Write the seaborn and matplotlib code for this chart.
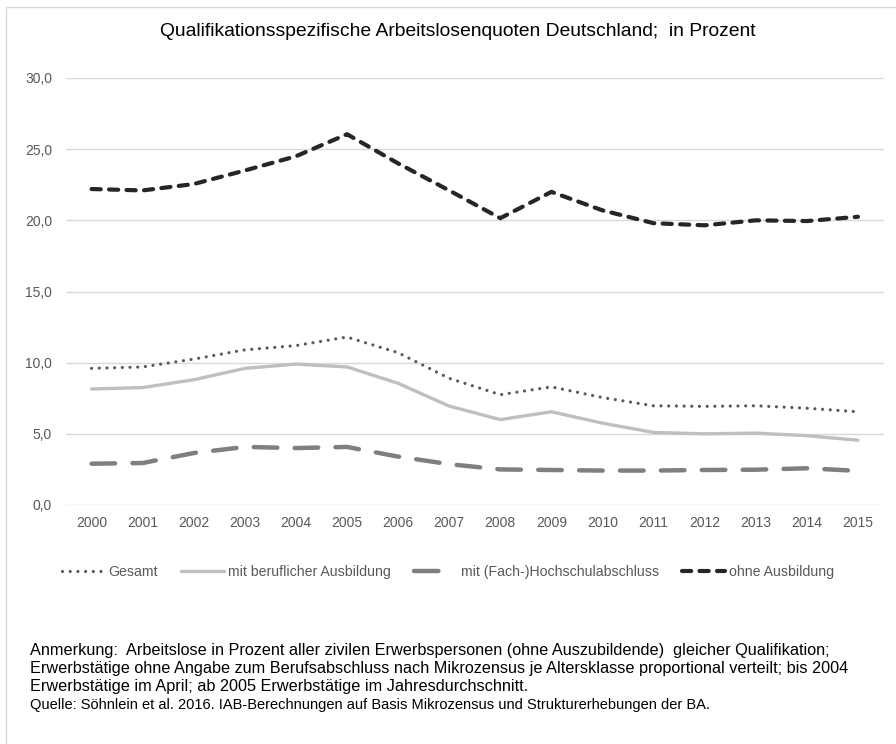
import matplotlib
matplotlib.use("Agg")
import matplotlib.pyplot as plt
import seaborn as sns
import pandas as pd
from matplotlib.patches import Rectangle
from matplotlib.lines import Line2D

years = list(range(2000, 2016))
gesamt = [9.6, 9.7, 10.25, 10.9, 11.2, 11.8, 10.7, 8.9, 7.75, 8.3, 7.55, 6.97, 6.93, 6.97, 6.8, 6.55]
beruflich = [8.15, 8.25, 8.8, 9.6, 9.9, 9.7, 8.55, 6.95, 6.0, 6.55, 5.75, 5.1, 5.0, 5.05, 4.87, 4.55]
hochschule = [2.9, 2.95, 3.65, 4.08, 4.0, 4.08, 3.4, 2.87, 2.5, 2.46, 2.42, 2.42, 2.46, 2.48, 2.58, 2.4]
ohne = [22.2, 22.1, 22.55, 23.5, 24.5, 26.05, 24.0, 22.1, 20.15, 22.0, 20.7, 19.8, 19.65, 20.0, 19.95, 20.25]
series_names = ["Gesamt", "mit beruflicher Ausbildung", "mit (Fach-)Hochschulabschluss", "ohne Ausbildung"]
yticks = [0, 5, 10, 15, 20, 25, 30]

title = "Qualifikationsspezifische Arbeitslosenquoten Deutschland;  in Prozent"
note_lines = [
    "Anmerkung:  Arbeitslose in Prozent aller zivilen Erwerbspersonen (ohne Auszubildende)  gleicher Qualifikation;",
    "Erwerbstätige ohne Angabe zum Berufsabschluss nach Mikrozensus je Altersklasse proportional verteilt; bis 2004",
    "Erwerbstätige im April; ab 2005 Erwerbstätige im Jahresdurchschnitt.",
]
source = "Quelle: Söhnlein et al. 2016. IAB-Berechnungen auf Basis Mikrozensus und Strukturerhebungen der BA."

sns.set_theme(style="white")
plt.rcParams["font.family"] = ["Liberation Sans", "DejaVu Sans"]

df = pd.DataFrame({
    "Jahr": years * 4,
    "Wert": gesamt + beruflich + hochschule + ohne,
    "Reihe": sum([[n] * len(years) for n in series_names], []),
})

fig = plt.figure(figsize=(8.96, 7.44), dpi=100)
ax = fig.add_axes([66 / 896, 1 - 505 / 744, (883.5 - 66) / 896, (505 - 78) / 744])

styles = {
    "Gesamt": dict(color="#595959", lw=2.3, ls=(0, (0.01, 2.4))),
    "mit beruflicher Ausbildung": dict(color="#bfbfbf", lw=2.4, ls="-"),
    "mit (Fach-)Hochschulabschluss": dict(color="#7f7f7f", lw=3.2, ls=(0, (5.3, 3.9))),
    "ohne Ausbildung": dict(color="#262626", lw=3.0, ls=(0, (2.2, 2.0))),
}
legend_ls = {
    "Gesamt": (0, (0.01, 2.4)),
    "mit beruflicher Ausbildung": "-",
    "mit (Fach-)Hochschulabschluss": (0, (5.5, 8)),
    "ohne Ausbildung": (0, (2.2, 2.0)),
}
for name in series_names:
    sub = df[df["Reihe"] == name]
    st = styles[name]
    sns.lineplot(data=sub, x="Jahr", y="Wert", ax=ax, color=st["color"],
                 linewidth=st["lw"], linestyle=st["ls"], legend=False)
for line in ax.get_lines():
    line.set_dash_capstyle("round")
    line.set_solid_capstyle("round")

ax.set_xlim(1999.5, 2015.5)
ax.set_ylim(0, 30)
ax.set_xticks(years)
ax.set_xticklabels([str(y) for y in years])
ax.set_yticks(yticks)
ax.set_yticklabels([f"{v:.1f}".replace(".", ",") for v in yticks])
ax.set_xlabel("")
ax.set_ylabel("")
ax.grid(axis="y", color="#d9d9d9", lw=1)
ax.set_axisbelow(True)
for s in ax.spines.values():
    s.set_visible(False)
ax.tick_params(axis="both", length=0, labelsize=10, labelcolor="#595959")
ax.tick_params(axis="y", pad=10)
ax.tick_params(axis="x", pad=8)

handles = []
for name in series_names:
    st = styles[name]
    h = Line2D([0], [0], color=st["color"], lw=st["lw"], ls=legend_ls[name])
    h.set_dash_capstyle("round")
    h.set_solid_capstyle("round")
    handles.append(h)
leg = fig.legend(handles, series_names, loc="center", bbox_to_anchor=(0.5, 1 - 572 / 744), ncol=4,
                 frameon=False, fontsize=10.2, handlelength=3.0, columnspacing=1.65, handletextpad=0.3)
for t in leg.get_texts():
    t.set_color("#595959")

fig.text(458 / 896, 1 - 31 / 744, title, ha="center", va="center", fontsize=13.9, color="#000000")
for i, ln in enumerate(note_lines):
    fig.text(30 / 896, 1 - (650 + i * 18.5) / 744, ln, ha="left", va="center", fontsize=11.7, color="#000000")
fig.text(30 / 896, 1 - 705 / 744, source, ha="left", va="center", fontsize=10.5, color="#000000")

fig.patches.append(Rectangle((6 / 896, -0.05), 1.2, 1 - 7 / 744 + 0.05, transform=fig.transFigure,
                             fill=False, edgecolor="#d9d9d9", lw=1))

fig.savefig("out.png", dpi=100)
